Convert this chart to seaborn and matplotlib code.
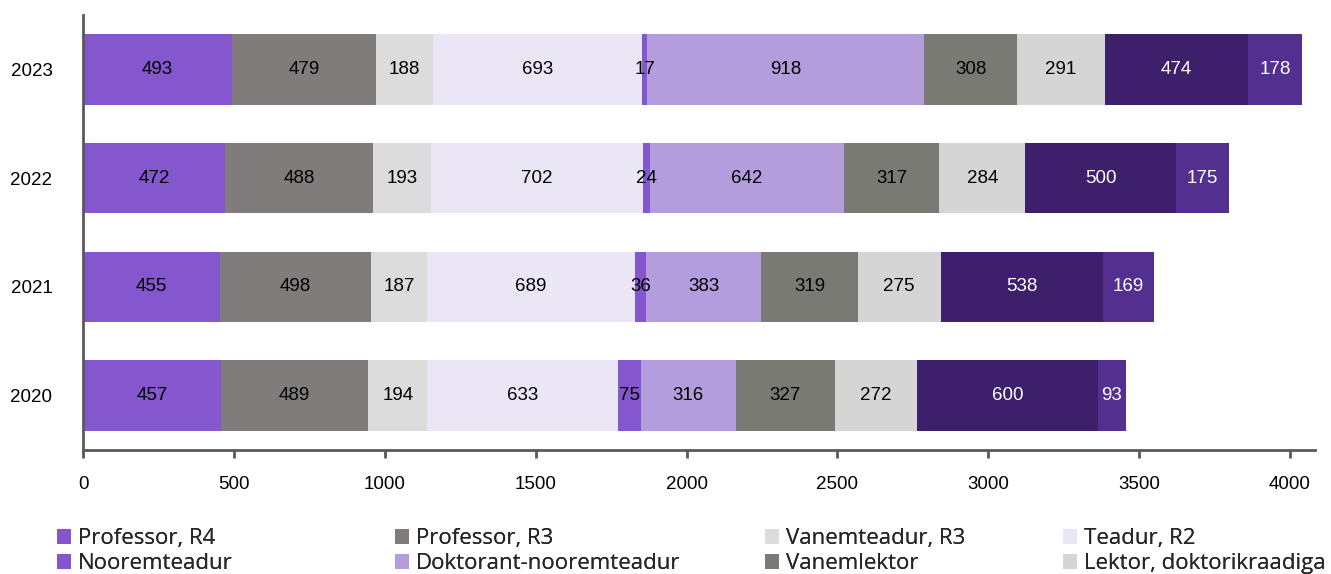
import matplotlib
matplotlib.use("Agg")
import matplotlib.pyplot as plt
import seaborn as sns
import numpy as np
import pandas as pd
from matplotlib.patches import Patch

years = ["2023", "2022", "2021", "2020"]
series_names = ["Professor, R4", "Professor, R3", "Vanemteadur, R3", "Teadur, R2",
                "Nooremteadur", "Doktorant-nooremteadur", "Vanemlektor",
                "Lektor, doktorikraadiga", "Lektor", "Assistent"]
professor_r4 = [493, 472, 455, 457]
professor_r3 = [479, 488, 498, 489]
vanemteadur_r3 = [188, 193, 187, 194]
teadur_r2 = [693, 702, 689, 633]
nooremteadur = [17, 24, 36, 75]
doktorant = [918, 642, 383, 316]
vanemlektor = [308, 317, 319, 327]
lektor_dr = [291, 284, 275, 272]
lektor = [474, 500, 538, 600]
assistent = [178, 175, 169, 93]

colors = ["#8457cf", "#807c7c", "#dcdcdc", "#ebe6f5", "#8457cf", "#b39ddc",
          "#797a74", "#d6d5d5", "#3d1f6b", "#53308f"]
text_colors = ["black"] * 8 + ["white", "white"]

values = np.array([professor_r4, professor_r3, vanemteadur_r3, teadur_r2, nooremteadur,
                   doktorant, vanemlektor, lektor_dr, lektor, assistent], dtype=float)
cum = np.cumsum(values, axis=0)

sns.set_theme(style="white")
plt.rcParams['font.family'] = ['Liberation Sans', 'DejaVu Sans']

fig = plt.figure(figsize=(13.31, 5.74), dpi=100)
ax = fig.add_axes([0.0624, 0.216, 0.9256, 0.758])

for i in range(len(series_names) - 1, -1, -1):
    df = pd.DataFrame({"year": years, "value": cum[i]})
    sns.barplot(data=df, x="value", y="year", order=years, orient="h",
                color=colors[i], saturation=1, width=0.65, ax=ax,
                edgecolor="none", linewidth=0)

for i in range(len(series_names)):
    for j in range(len(years)):
        xc = cum[i, j] - values[i, j] / 2
        ax.text(xc, j, f"{int(values[i, j])}", ha="center", va="center",
                fontsize=13.5, color=text_colors[i])

ax.set_xlim(0, 4083)
ax.set_ylim(3.5, -0.5)
ax.set_xlabel("")
ax.set_ylabel("")
ax.set_xticks([0, 500, 1000, 1500, 2000, 2500, 3000, 3500, 4000])
ax.tick_params(axis="x", which="both", bottom=True, length=6, width=2,
               color="#595959", labelsize=13.5, pad=13, labelcolor="black")
ax.tick_params(axis="y", left=False, labelsize=13.5, pad=16, labelcolor="black")
for s in ["top", "right"]:
    ax.spines[s].set_visible(False)
for s in ["left", "bottom"]:
    ax.spines[s].set_color("#595959")
    ax.spines[s].set_linewidth(2)

# legend: four columns, two visible rows
col_items = [[0, 4], [1, 5], [2, 6], [3, 7]]
col_x = [61, 399, 769, 1067]
for items, xpx in zip(col_items, col_x):
    handles = [Patch(facecolor=colors[k], edgecolor="none") for k in items]
    labels = [series_names[k] for k in items]
    leg = fig.legend(handles, labels, loc="upper left",
                     bbox_to_anchor=(xpx / 1331 - 0.003, 1 - 528 / 574), frameon=False,
                     prop={"family": "Open Sans", "size": 16},
                     handlelength=0.65, handleheight=0.65, handletextpad=0.3,
                     labelspacing=0.18, borderaxespad=0, borderpad=0)
    fig.add_artist(leg)

fig.savefig("out.png", dpi=100)
